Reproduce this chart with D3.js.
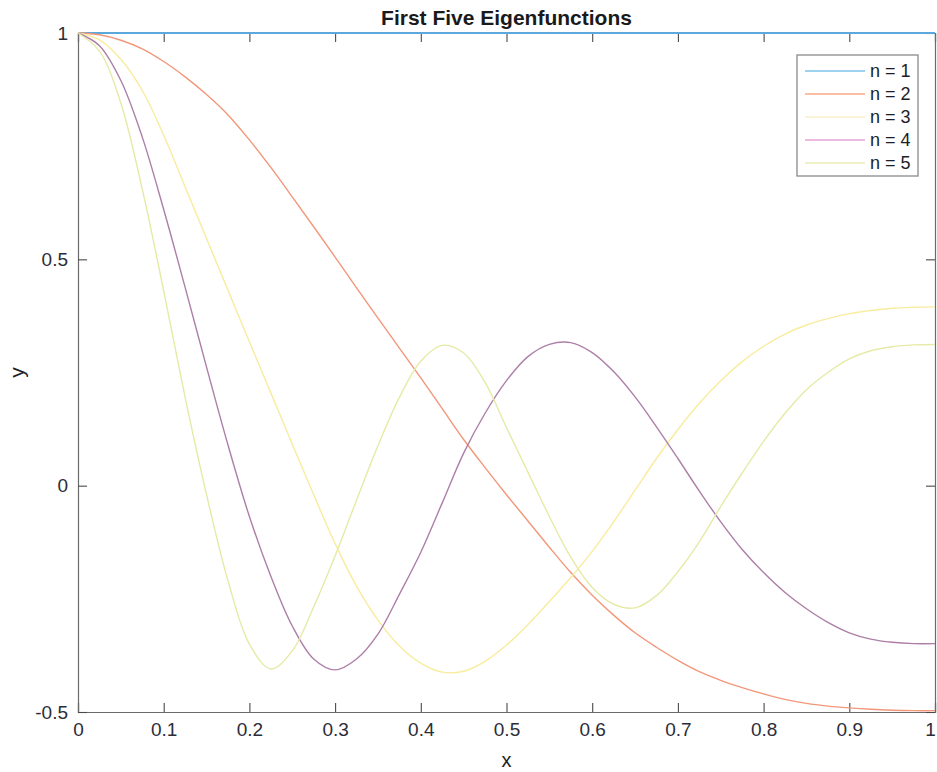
<!DOCTYPE html>
<html>
<head>
<meta charset="utf-8">
<script src="https://cdn.jsdelivr.net/npm/d3@7"></script>
<style>
  html, body { margin: 0; padding: 0; background: #ffffff; }
  svg { display: block; }
  text { font-family: "Liberation Sans", Arial, Helvetica, sans-serif; }
</style>
</head>
<body>
<svg id="chart" width="937" height="772"></svg>
<script>
// Sample positions along x (shared by every series)
const xValues = [0, 0.025, 0.05, 0.075, 0.1, 0.125, 0.15, 0.175, 0.2, 0.225,
  0.25, 0.275, 0.3, 0.325, 0.35, 0.375, 0.4, 0.425, 0.45, 0.475,
  0.5, 0.525, 0.55, 0.575, 0.6, 0.625, 0.65, 0.675, 0.7, 0.725,
  0.75, 0.775, 0.8, 0.825, 0.85, 0.875, 0.9, 0.925, 0.95, 0.975, 1];

// Eigenfunction values at each x
const yN1 = [1, 1, 1, 1, 1, 1, 1, 1, 1, 1,
  1, 1, 1, 1, 1, 1, 1, 1, 1, 1,
  1, 1, 1, 1, 1, 1, 1, 1, 1, 1,
  1, 1, 1, 1, 1, 1, 1, 1, 1, 1, 1];
const yN2 = [1.000, 0.996, 0.984, 0.965, 0.937, 0.903, 0.864, 0.819, 0.764, 0.703,
  0.638, 0.572, 0.505, 0.437, 0.370, 0.304, 0.238, 0.170, 0.102, 0.040,
  -0.020, -0.078, -0.136, -0.192, -0.242, -0.286, -0.325, -0.357, -0.386, -0.411,
  -0.430, -0.446, -0.460, -0.472, -0.481, -0.487, -0.491, -0.494, -0.496, -0.497, -0.497];
const yN3 = [1.000, 0.985, 0.942, 0.873, 0.774, 0.660, 0.546, 0.432, 0.318, 0.205,
  0.092, -0.020, -0.128, -0.222, -0.297, -0.354, -0.392, -0.412, -0.410, -0.388,
  -0.352, -0.307, -0.256, -0.203, -0.145, -0.080, -0.010, 0.060, 0.124, 0.182,
  0.232, 0.274, 0.308, 0.335, 0.355, 0.369, 0.380, 0.387, 0.392, 0.394, 0.395];
const yN4 = [1.000, 0.972, 0.895, 0.770, 0.610, 0.438, 0.262, 0.090, -0.068, -0.200,
  -0.310, -0.383, -0.407, -0.383, -0.328, -0.240, -0.147, -0.038, 0.072, 0.160,
  0.232, 0.285, 0.312, 0.316, 0.294, 0.252, 0.196, 0.130, 0.060, -0.012,
  -0.080, -0.141, -0.192, -0.236, -0.272, -0.302, -0.325, -0.339, -0.346, -0.349, -0.349];
const yN5 = [1.000, 0.960, 0.845, 0.655, 0.430, 0.195, -0.020, -0.210, -0.350, -0.405,
  -0.365, -0.268, -0.155, -0.032, 0.088, 0.195, 0.275, 0.310, 0.293, 0.228,
  0.128, 0.030, -0.068, -0.158, -0.225, -0.262, -0.270, -0.243, -0.190, -0.124,
  -0.046, 0.028, 0.098, 0.160, 0.212, 0.250, 0.280, 0.298, 0.307, 0.311, 0.312];

const seriesNames = ["n = 1", "n = 2", "n = 3", "n = 4", "n = 5"];
const seriesValues = [yN1, yN2, yN3, yN4, yN5];
const seriesColors = ["#5aa8dc", "#f2977a", "#f8ec9e", "#ad7fa8", "#e6eaa6"];
const legendColors = ["#7cc4ec", "#f7a884", "#f8f2cc", "#e6a2d6", "#ececb4"];

const xTicks = [0, 0.1, 0.2, 0.3, 0.4, 0.5, 0.6, 0.7, 0.8, 0.9, 1];
const yTicks = [-0.5, 0, 0.5, 1];

const svg = d3.select("#chart");
const margin = { left: 78, right: 2, top: 33, bottom: 60 };
const W = 937, H = 772;

const x = d3.scaleLinear().domain([0, 1]).range([margin.left, W - margin.right]);
const y = d3.scaleLinear().domain([-0.5, 1]).range([H - margin.bottom, margin.top]);

const tickLen = 9;
const axisColor = "#6a6a6a";
const labelColor = "#2c2c38";
const fmt = d => String(d);

// Bottom axis with labels
const gx = svg.append("g")
  .attr("transform", `translate(0,${y(-0.5)})`)
  .call(d3.axisBottom(x).tickValues(xTicks).tickSize(-tickLen).tickPadding(14).tickFormat(fmt));
// Top axis (ticks only)
const gxt = svg.append("g")
  .attr("transform", `translate(0,${y(1)})`)
  .call(d3.axisTop(x).tickValues(xTicks).tickSize(-tickLen).tickFormat(""));
// Left axis with labels
const gy = svg.append("g")
  .attr("transform", `translate(${x(0)},0)`)
  .call(d3.axisLeft(y).tickValues(yTicks).tickSize(-tickLen).tickPadding(10).tickFormat(fmt));
// Right axis (ticks only)
const gyr = svg.append("g")
  .attr("transform", `translate(${x(1)},0)`)
  .call(d3.axisRight(y).tickValues(yTicks).tickSize(-tickLen).tickFormat(""));

[gx, gxt, gy, gyr].forEach(g => {
  g.select(".domain").attr("stroke", axisColor).attr("stroke-width", 1.2);
  g.selectAll(".tick line").attr("stroke", "#4a4a4a").attr("stroke-width", 1.1);
  g.selectAll(".tick text")
    .attr("fill", labelColor)
    .attr("font-size", 19)
    .attr("font-family", '"Liberation Sans", Arial, sans-serif');
});
gx.selectAll(".tick text").attr("dy", "0.55em");
// keep the last x label inside the frame edge
gx.selectAll(".tick text").filter(d => d === 1).attr("dx", -5);

// Curves
const line = d3.line()
  .x((d, i) => x(xValues[i]))
  .y(d => y(d))
  .curve(d3.curveCatmullRom.alpha(0.5));

const plot = svg.append("g");
seriesValues.forEach((vals, k) => {
  plot.append("path")
    .datum(vals)
    .attr("fill", "none")
    .attr("stroke", seriesColors[k])
    .attr("stroke-width", k === 0 ? 2 : 1.4)
    .attr("d", line);
});

// Title and axis labels
svg.append("text")
  .attr("x", (x(0) + x(1)) / 2)
  .attr("y", 25)
  .attr("text-anchor", "middle")
  .attr("font-size", 21)
  .attr("font-weight", "bold")
  .attr("fill", "#1a1a1a")
  .text("First Five Eigenfunctions");

svg.append("text")
  .attr("x", (x(0) + x(1)) / 2)
  .attr("y", 767)
  .attr("text-anchor", "middle")
  .attr("font-size", 20)
  .attr("fill", "#1e1e26")
  .text("x");

svg.append("text")
  .attr("transform", `translate(24,${(y(-0.5) + y(1)) / 2}) rotate(-90)`)
  .attr("text-anchor", "middle")
  .attr("font-size", 21)
  .attr("fill", "#1e1e26")
  .text("y");

// Legend
const legend = svg.append("g").attr("transform", "translate(797,55)");
legend.append("rect")
  .attr("width", 121).attr("height", 121)
  .attr("fill", "#ffffff")
  .attr("stroke", "#8a8a8a")
  .attr("stroke-width", 1.3);
seriesNames.forEach((name, k) => {
  const row = legend.append("g").attr("transform", `translate(0,${16 + k * 23})`);
  row.append("line")
    .attr("x1", 8).attr("x2", 68)
    .attr("stroke", legendColors[k])
    .attr("stroke-width", 1.6);
  row.append("text")
    .attr("x", 73).attr("y", 0)
    .attr("dy", "0.36em")
    .attr("font-size", 18)
    .attr("fill", "#1e1e26")
    .text(name);
});
</script>
</body>
</html>
